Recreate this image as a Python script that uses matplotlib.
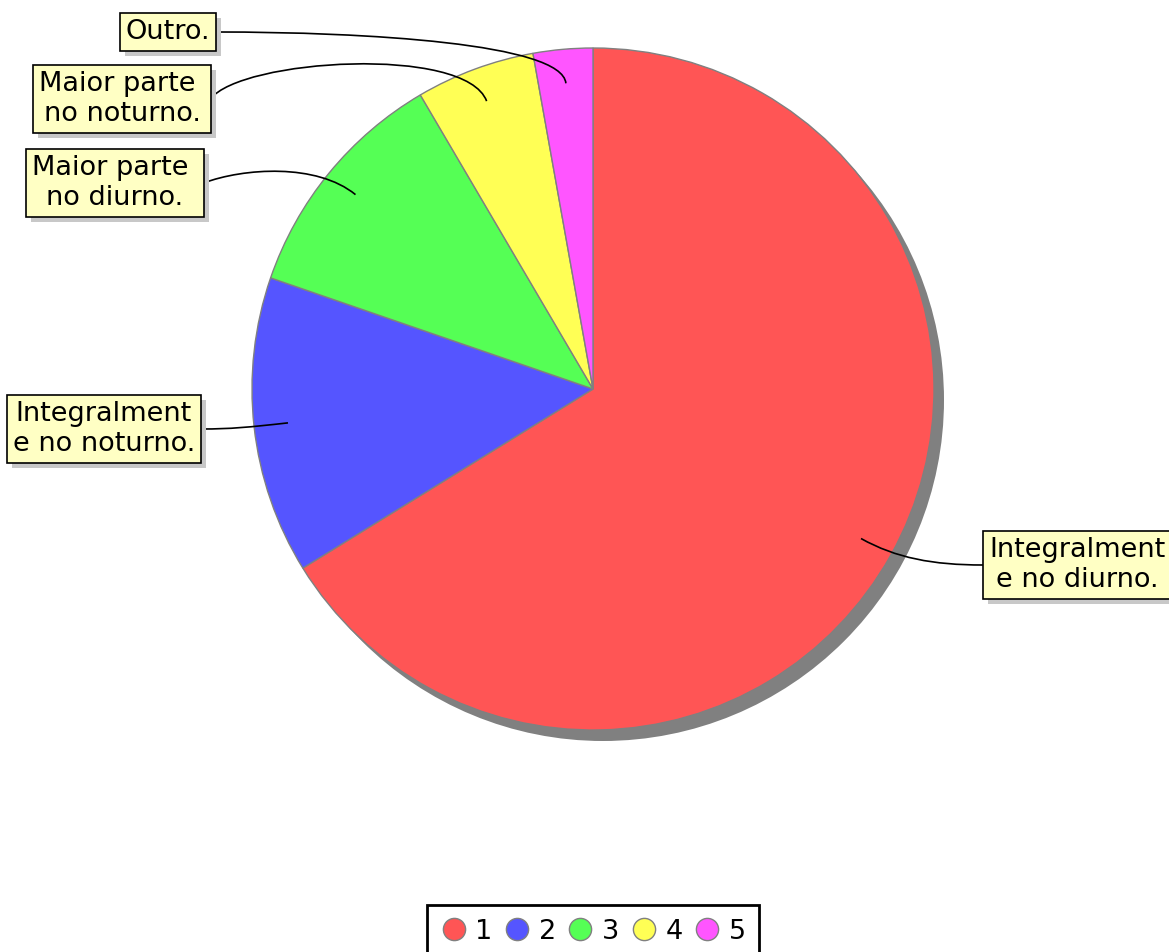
import numpy as np
import matplotlib
matplotlib.use("Agg")
import matplotlib.pyplot as plt
from matplotlib.patches import Circle, PathPatch
from matplotlib.path import Path
from matplotlib.lines import Line2D

# data
labels = ["Integralment\ne no diurno.", "Integralment\ne no noturno.",
          "Maior parte \nno diurno.", "Maior parte \nno noturno.", "Outro."]
counts = [47, 10, 8, 4, 2]
legend_labels = ["1", "2", "3", "4", "5"]
colors = ["#FF5555", "#5555FF", "#55FF55", "#FFFF55", "#FF55FF"]

W, H = 1169, 952
fig = plt.figure(figsize=(W / 100, H / 100), dpi=100)
ax = fig.add_axes([0, 0, 1, 1])

cx, cy, R = 593, H - 389, 341

# shadow
ax.add_patch(Circle((cx + 10, cy - 11), R, color="#808080", zorder=1, lw=0))

wedges, _ = ax.pie(counts, colors=colors, startangle=90, counterclock=False,
                   center=(cx, cy), radius=R, frame=True,
                   wedgeprops=dict(edgecolor="#808080", linewidth=1, zorder=2))
ax.set_xlim(0, W)
ax.set_ylim(0, H)
ax.set_aspect("equal")
ax.axis("off")

# label boxes (screen centre positions) and connector shape
box_pos = [(1077, 565), (104, 429), (115, 183), (122, 99), (168, 32)]
ctrl_len = [40, 40, 50, 60, 40]
box_ctrl = [(50, 0), (30, 0), (40, 15), (30, 40), (150, 0)]

fs = 19.5
texts = []
for lab, (bx, by) in zip(labels, box_pos):
    y = H - by
    # box shadow
    ax.text(bx + 5, y - 5, lab, ha="center", va="center", fontsize=fs, color="none",
            multialignment="center", linespacing=1.2, zorder=4,
            bbox=dict(boxstyle="square,pad=0.22", fc="#C8C8C8", ec="none"))
    t = ax.text(bx, y, lab, ha="center", va="center", fontsize=fs, color="black",
                multialignment="center", linespacing=1.2, zorder=5,
                bbox=dict(boxstyle="square,pad=0.22", fc="#FFFFC4", ec="black", lw=1.2))
    texts.append(t)

fig.canvas.draw()
inv = ax.transData.inverted()
for w, t, a, (b, c), (bx, by) in zip(wedges, texts, ctrl_len, box_ctrl, box_pos):
    mid = np.deg2rad((w.theta1 + w.theta2) / 2)
    ux, uy = np.cos(mid), np.sin(mid)
    p0 = (cx + 0.9 * R * ux, cy + 0.9 * R * uy)
    p1 = (p0[0] + a * ux, p0[1] + a * uy)
    bb = t.get_bbox_patch().get_window_extent().transformed(inv)
    if bx > cx:
        p3 = (bb.x0, H - by)
        p2 = (p3[0] - b, p3[1] + c)
    else:
        p3 = (bb.x1, H - by)
        p2 = (p3[0] + b, p3[1] + c)
    path = Path([p0, p1, p2, p3], [Path.MOVETO, Path.CURVE4, Path.CURVE4, Path.CURVE4])
    ax.add_patch(PathPatch(path, fc="none", ec="black", lw=1.2, zorder=3))

handles = [Line2D([], [], marker="o", ls="none", markersize=16,
                  markerfacecolor=c, markeredgecolor="#808080", markeredgewidth=1)
           for c in colors]
leg = fig.legend(handles, legend_labels, loc="upper center", ncol=5,
                 bbox_to_anchor=(cx / W, 1 - 905 / H), fontsize=fs,
                 fancybox=False, frameon=True, edgecolor="black", framealpha=1,
                 handlelength=1.0, handletextpad=0.3, columnspacing=0.4,
                 borderpad=0.5, borderaxespad=0)
leg.get_frame().set_linewidth(2)

fig.savefig("out.png", dpi=100)
